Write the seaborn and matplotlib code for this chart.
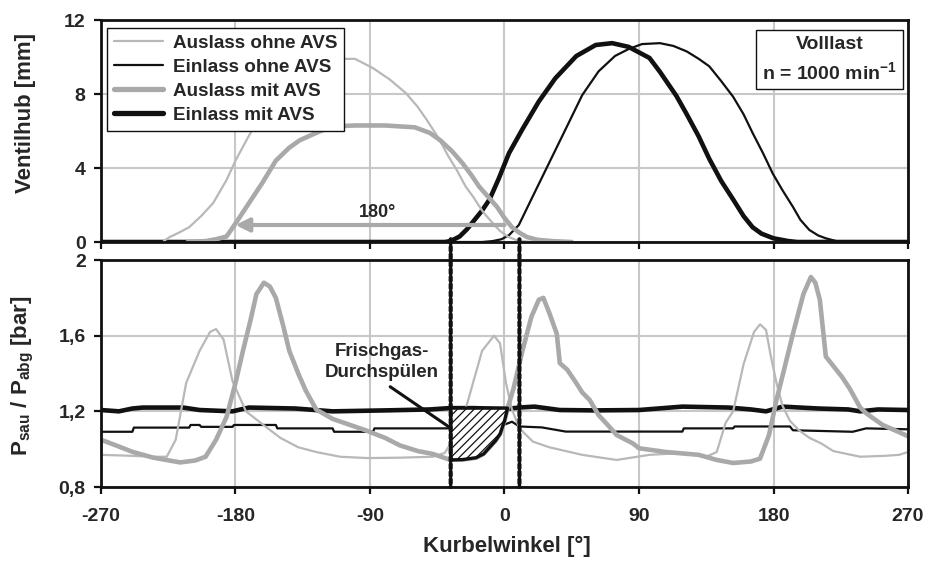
import matplotlib
matplotlib.use("Agg")
import matplotlib.pyplot as plt
import seaborn as sns
from matplotlib.patches import ConnectionPatch
from matplotlib.lines import Line2D

# ---------------- data: valve lift (top panel) ----------------
lift_aus_ohne_deg = [-228, -224, -218, -211, -203, -195, -186, -180, -172, -165, -155, -145, -135, -122,
                     -110, -100, -88, -77, -66, -58, -52, -44, -38, -32, -26, -21, -15, -12, -6, -3, 2, 8, 15, 22]
lift_aus_ohne_mm = [0.05, 0.27, 0.5, 0.8, 1.4, 2.1, 3.35, 4.4, 5.6, 6.6, 7.7, 8.6, 9.2, 9.7,
                    9.9, 9.9, 9.4, 8.8, 8.05, 7.3, 6.6, 5.6, 4.7, 3.9, 3.0, 2.45, 1.7, 1.4, 0.85, 0.6, 0.3, 0.1, 0.03, 0.0]

lift_aus_mit_deg = [-212, -200, -193, -186, -180, -171, -162, -153, -144, -137, -126, -115, -100, -80,
                    -60, -50, -43, -35, -28, -22, -17, -11, -5, 0, 5, 10, 15, 22, 32, 45]
lift_aus_mit_mm = [0.0, 0.05, 0.15, 0.3, 1.0, 2.1, 3.2, 4.4, 5.1, 5.5, 5.9, 6.25, 6.3, 6.3,
                   6.2, 5.9, 5.5, 4.9, 4.25, 3.6, 3.0, 2.45, 1.9, 1.3, 0.8, 0.5, 0.27, 0.12, 0.05, 0.0]

lift_ein_ohne_deg = [-270, -15, -8, -2, 3, 9.6, 18.5, 29.7, 40.9, 52, 63, 74, 83, 92, 104, 113, 122, 130,
                     137, 145, 153, 160, 166, 173, 179.5, 186, 193, 198, 204, 210, 215, 222, 228, 270]
lift_ein_ohne_mm = [0, 0, 0.05, 0.15, 0.37, 0.92, 2.4, 4.25, 6.1, 7.94, 9.23, 10.06, 10.43, 10.7, 10.75, 10.6, 10.3, 9.9,
                    9.5, 8.7, 7.85, 6.9, 5.9, 4.8, 3.7, 2.8, 1.9, 1.2, 0.65, 0.35, 0.2, 0.05, 0, 0]

lift_ein_mit_deg = [-270, -40, -36, -30, -25, -20, -15, -10, -4, 3, 12, 23, 34, 48, 61, 72, 83, 97, 104,
                    115, 122, 130, 137, 145, 153, 160, 166, 172, 180, 190, 196, 270]
lift_ein_mit_mm = [0, 0, 0.05, 0.3, 0.7, 1.2, 1.7, 2.3, 3.4, 4.8, 6.1, 7.6, 8.85, 10.05, 10.65, 10.75, 10.55, 9.95, 9.2,
                   7.9, 6.9, 5.7, 4.5, 3.3, 2.3, 1.4, 0.8, 0.45, 0.2, 0.05, 0, 0]

# ---------------- data: pressures (bottom panel) ----------------
p_ein_mit_deg = [-270, -258, -249, -242, -215, -204, -182, -171, -140, -115, -80, -50, -37, -20, 0, 10, 20,
                 37, 60, 90, 119, 150, 165, 175, 186, 210, 230, 238, 250, 270]
p_ein_mit_bar = [1.207, 1.20, 1.215, 1.22, 1.22, 1.207, 1.20, 1.22, 1.215, 1.20, 1.205, 1.21, 1.217, 1.217, 1.212,
                 1.22, 1.225, 1.207, 1.205, 1.207, 1.225, 1.22, 1.21, 1.20, 1.225, 1.215, 1.21, 1.20, 1.21, 1.207]

p_ein_ohne_deg = [-270, -249, -248, -211, -210, -204, -203, -182, -181, -153, -152, -115, -114, -88, -87,
                  -37, -10, 0, 5, 10, 25, 41, 119, 120, 153, 154, 191, 193, 233, 242, 270]
p_ein_ohne_bar = [1.092, 1.092, 1.114, 1.114, 1.128, 1.128, 1.118, 1.118, 1.128, 1.128, 1.11, 1.11, 1.092, 1.092, 1.11,
                  1.11, 1.11, 1.13, 1.145, 1.12, 1.115, 1.093, 1.093, 1.11, 1.11, 1.12, 1.12, 1.10, 1.092, 1.11, 1.105]

p_aus_ohne_deg = [-270, -250, -235, -226, -220, -213, -204, -197, -193, -188, -182, -173, -160, -150, -138, -126,
                  -110, -92, -70, -48, -40, -32, -25, -15, -7, -3, 1, 5, 10, 19, 30, 52, 75, 97, 119, 135,
                  142, 148, 153, 160, 167, 171, 175, 178, 182, 186, 191, 197, 204, 212, 220, 238, 255, 264, 270]
p_aus_ohne_bar = [0.97, 0.965, 0.96, 0.96, 1.05, 1.35, 1.52, 1.62, 1.635, 1.58, 1.36, 1.2, 1.12, 1.06, 1.01, 0.985,
                  0.96, 0.953, 0.955, 0.96, 0.98, 1.08, 1.24, 1.52, 1.60, 1.56, 1.35, 1.21, 1.11, 1.04, 1.01, 0.97,
                  0.943, 0.97, 0.98, 0.96, 0.985, 1.14, 1.2, 1.45, 1.62, 1.66, 1.63, 1.50, 1.35, 1.23, 1.15, 1.10,
                  1.06, 1.03, 0.99, 0.96, 0.965, 0.97, 0.985]

p_aus_mit_deg = [-270, -260, -249, -235, -217, -207, -200, -193, -186, -180, -175, -170, -166, -161, -157, -153,
                 -148, -144, -138, -133, -126, -115, -104, -93, -80, -70, -58, -48, -37, -28, -19, -14, -10, -6,
                 -3, 0, 2, 6, 12, 18, 23, 26, 30, 35, 37, 42, 48, 52, 57, 63, 70, 75, 86, 90, 108, 130, 142,
                 153, 165, 171, 177, 182, 188, 193, 200, 205, 208, 211, 215, 220, 226, 231, 238, 242, 253, 264, 271]
p_aus_mit_bar = [1.05, 1.02, 0.986, 0.955, 0.93, 0.94, 0.96, 1.05, 1.17, 1.35, 1.52, 1.68, 1.82, 1.88, 1.86, 1.80,
                 1.65, 1.52, 1.40, 1.31, 1.21, 1.16, 1.13, 1.10, 1.06, 1.02, 0.99, 0.975, 0.945, 0.945, 0.955, 0.975,
                 1.01, 1.045, 1.08, 1.15, 1.215, 1.32, 1.52, 1.70, 1.79, 1.80, 1.72, 1.61, 1.455, 1.42, 1.35, 1.30,
                 1.26, 1.18, 1.12, 1.075, 1.03, 1.005, 0.985, 0.97, 0.943, 0.927, 0.935, 0.95, 1.075, 1.26, 1.45,
                 1.61, 1.82, 1.91, 1.88, 1.79, 1.49, 1.44, 1.38, 1.32, 1.22, 1.19, 1.128, 1.09, 1.065]

# scavenging (Frischgas-Durchspuelen) area
hatch_deg = [-36, -28, -19, -14, -10, -6, -3, 0, 2]
hatch_low = [0.943, 0.945, 0.955, 0.975, 1.01, 1.045, 1.08, 1.15, 1.215]
hatch_high = [1.217, 1.217, 1.217, 1.217, 1.217, 1.217, 1.217, 1.217, 1.217]

# valve timing markers
marker_deg = [-36, 10]

# ticks / labels
x_ticks = [-270, -180, -90, 0, 90, 180, 270]
lift_ticks = [0, 4, 8, 12]
p_ticks = [0.8, 1.2, 1.6, 2.0]
p_tick_labels = ["0,8", "1,2", "1,6", "2"]
series_names = ["Auslass ohne AVS", "Einlass ohne AVS", "Auslass mit AVS", "Einlass mit AVS"]

# ---------------- style ----------------
sns.set_style("white")
plt.rcParams["font.family"] = ["Liberation Sans", "DejaVu Sans"]
plt.rcParams["font.weight"] = "bold"
plt.rcParams["axes.labelweight"] = "bold"
plt.rcParams["axes.unicode_minus"] = False
plt.rcParams["mathtext.fontset"] = "custom"
plt.rcParams["mathtext.rm"] = "Liberation Sans:bold"
plt.rcParams["mathtext.bf"] = "Liberation Sans:bold"
plt.rcParams["mathtext.it"] = "Liberation Sans:bold"
plt.rcParams["mathtext.default"] = "rm"
plt.rcParams["hatch.linewidth"] = 0.9

GRAY_THIN = "#b8b8b8"
GRAY_THICK = "#a9a9a9"
BLACK = "#111111"
GRID = "#c8c8c8"
LW_THIN = 1.6
LW_THICK = 3.3

fig = plt.figure(figsize=(9.29, 5.61), dpi=100)
ax1 = fig.add_axes([0.1087, 0.5686, 0.8687, 0.3957])
ax2 = fig.add_axes([0.1087, 0.1319, 0.8687, 0.4046])

# top panel
sns.lineplot(x=lift_ein_ohne_deg, y=lift_ein_ohne_mm, ax=ax1, color=BLACK, lw=LW_THIN, zorder=3)
sns.lineplot(x=lift_ein_mit_deg, y=lift_ein_mit_mm, ax=ax1, color=BLACK, lw=LW_THICK, zorder=3)
sns.lineplot(x=lift_aus_ohne_deg, y=lift_aus_ohne_mm, ax=ax1, color=GRAY_THIN, lw=LW_THIN, zorder=4)
sns.lineplot(x=lift_aus_mit_deg, y=lift_aus_mit_mm, ax=ax1, color=GRAY_THICK, lw=LW_THICK, zorder=4)

# bottom panel
sns.lineplot(x=p_ein_ohne_deg, y=p_ein_ohne_bar, ax=ax2, color=BLACK, lw=LW_THIN, zorder=3)
sns.lineplot(x=p_ein_mit_deg, y=p_ein_mit_bar, ax=ax2, color=BLACK, lw=LW_THICK, zorder=3)
sns.lineplot(x=p_aus_ohne_deg, y=p_aus_ohne_bar, ax=ax2, color=GRAY_THIN, lw=LW_THIN, zorder=4)
sns.lineplot(x=p_aus_mit_deg, y=p_aus_mit_bar, ax=ax2, color=GRAY_THICK, lw=LW_THICK, zorder=4)

ax2.fill_between(hatch_deg, hatch_low, hatch_high, facecolor="white", edgecolor=BLACK,
                 hatch="////", linewidth=2.4, zorder=6)

for ax, ylim, yt in [(ax1, (0, 12), lift_ticks), (ax2, (0.8, 2.0), p_ticks)]:
    ax.set_xlim(-270, 270)
    ax.set_ylim(*ylim)
    ax.set_xticks(x_ticks)
    ax.set_yticks(yt)
    ax.grid(True, color=GRID, lw=1.5, zorder=0)
    ax.set_axisbelow(True)
    for s in ax.spines.values():
        s.set_linewidth(2.0)
        s.set_color(BLACK)
        s.set_zorder(7)
    ax.tick_params(axis="both", direction="out", length=5, width=1.6, color=BLACK,
                   labelsize=14, bottom=True, left=True)
    ax.tick_params(axis="x", pad=10)
    ax.tick_params(axis="y", pad=6)
    ax.set_xlabel("")
    ax.set_ylabel("")

ax1.tick_params(axis="x", labelbottom=False)
ax2.set_yticklabels(p_tick_labels)
for lab in ax1.get_yticklabels() + ax2.get_yticklabels() + ax2.get_xticklabels():
    lab.set_fontweight("bold")

ax1.set_ylabel("Ventilhub [mm]", fontsize=16, fontweight="bold")
ax1.yaxis.set_label_coords(-0.08, 0.58)
ax2.set_ylabel(r"P$_{\mathrm{sau}}$ / P$_{\mathrm{abg}}$ [bar]", fontsize=16, fontweight="bold")
ax2.yaxis.set_label_coords(-0.08, 0.49)
ax2.set_xlabel("Kurbelwinkel [°]", fontsize=16, fontweight="bold")
ax2.xaxis.set_label_coords(0.503, -0.215)

# legend
handles = [Line2D([], [], color=GRAY_THIN, lw=LW_THIN),
           Line2D([], [], color=BLACK, lw=LW_THIN),
           Line2D([], [], color=GRAY_THICK, lw=LW_THICK + 0.5),
           Line2D([], [], color=BLACK, lw=LW_THICK + 0.5)]
leg = ax1.legend(handles, series_names, loc="upper left", bbox_to_anchor=(0.0074, 0.964),
                 borderaxespad=0, fancybox=False, framealpha=1, edgecolor=BLACK,
                 prop={"size": 13.6, "weight": "bold"}, handlelength=2.6, handletextpad=0.55,
                 labelspacing=0.36, borderpad=0.35)
leg.get_frame().set_linewidth(1.0)
leg.set_zorder(8)

# operating point box
ax1.text(0.903, 0.822, "Volllast\nn = 1000 min$^{-1}$", transform=ax1.transAxes, ha="center",
         va="center", fontsize=14, fontweight="bold", linespacing=1.45, zorder=8,
         bbox=dict(boxstyle="square,pad=0.3", fc="white", ec=BLACK, lw=1.0))

# 180 degree arrow
ax1.annotate("", xy=(-180, 0.92), xytext=(0, 0.92),
             arrowprops=dict(arrowstyle="-|>", color=GRAY_THICK, lw=3, mutation_scale=20,
                             shrinkA=0, shrinkB=0), zorder=5)
ax1.text(-85, 1.6, "180°", ha="center", va="center", fontsize=13, fontweight="bold")

# scavenging annotation
ax2.annotate("Frischgas-\nDurchspülen", xy=(-37, 1.117), xytext=(-82, 1.46), ha="center",
             va="center", fontsize=13.5, fontweight="bold", linespacing=1.3, zorder=8,
             arrowprops=dict(arrowstyle="-", color=BLACK, lw=2.2, shrinkA=3, shrinkB=0,
                             relpos=(0.5, 0.0)))

# dotted timing markers across both panels
for d in marker_deg:
    con = ConnectionPatch(xyA=(d, 0.15), coordsA=ax1.transData, xyB=(d, 0.8), coordsB=ax2.transData,
                          color=BLACK, lw=3.0, linestyle=(0, (1.0, 0.8)), zorder=9)
    fig.add_artist(con)

fig.savefig("out.png", dpi=100)
